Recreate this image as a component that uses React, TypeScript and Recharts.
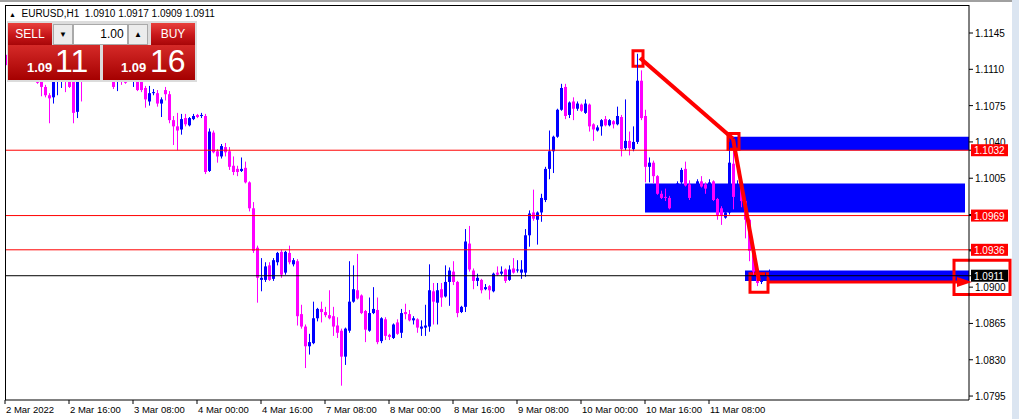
import React from 'react';
import {
  ComposedChart,
  Bar,
  XAxis,
  YAxis,
  ReferenceLine,
  ReferenceArea,
  ReferenceDot,
} from 'recharts';

// EURUSD H1, one bar per hour from 2 Mar 2022 00:00
const opens = [
  1.1124, 1.1114, 1.1122, 1.1131, 1.1127, 1.1134, 1.1139, 1.1125, 1.1110, 1.1104,
  1.1093, 1.1085, 1.1083, 1.1106, 1.1110, 1.1116, 1.1112, 1.1104, 1.1069, 1.1108,
  1.1104, 1.1114, 1.1121, 1.1118, 1.1126, 1.1123, 1.1116, 1.1110, 1.1102, 1.1110,
  1.1104, 1.1103, 1.1103, 1.1110, 1.1104, 1.1092, 1.1079, 1.1087, 1.1087, 1.1077,
  1.1090, 1.1086, 1.1061, 1.1055, 1.1052, 1.1063, 1.1056, 1.1062, 1.1066, 1.1065,
  1.1065, 1.1012, 1.1049, 1.1031, 1.1026, 1.1035, 1.1031, 1.1017, 1.1014, 1.1012,
  1.1015, 1.1001, 1.0976, 1.0938, 1.0907, 1.0907, 1.0921, 1.0908, 1.0924, 1.0934,
  1.0914, 1.0933, 1.0922, 1.0925, 1.0874, 1.0862, 1.0843, 1.0846, 1.0870, 1.0879,
  1.0876, 1.0873, 1.0872, 1.0863, 1.0858, 1.0833, 1.0858, 1.0886, 1.0897, 1.0892,
  1.0877, 1.0858, 1.0875, 1.0878, 1.0848, 1.0869, 1.0854, 1.0851, 1.0866, 1.0856,
  1.0876, 1.0874, 1.0868, 1.0869, 1.0860, 1.0861, 1.0862, 1.0896, 1.0885, 1.0898,
  1.0891, 1.0905, 1.0915, 1.0905, 1.0876, 1.0881, 1.0942, 1.0916, 1.0906, 1.0907,
  1.0898, 1.0901, 1.0896, 1.0914, 1.0913, 1.0917, 1.0907, 1.0918, 1.0916, 1.0914,
  1.0914, 1.0950, 1.0972, 1.0965, 1.0972, 1.0984, 1.1014, 1.1031, 1.1045, 1.1071,
  1.1093, 1.1066, 1.1079, 1.1072, 1.1076, 1.1068, 1.1076, 1.1057, 1.1051, 1.1055,
  1.1062, 1.1056, 1.1060, 1.1057, 1.1064, 1.1034, 1.1041, 1.1033, 1.1040, 1.1099,
  1.1065, 1.1016, 1.1020, 1.1007, 1.0990, 1.0987, 1.0986, 1.0976, 1.0986, 1.1001,
  1.1014, 1.0999, 1.0986, 1.0998, 1.1002, 1.0999, 1.0997, 1.1002, 1.0985, 1.0976,
  1.0967, 1.0972, 1.1019, 1.0987, 1.1000, 1.0983, 1.0965, 1.0935, 1.0915, 1.0905,
  1.0909, 1.0910,
];
const highs = [
  1.1127, 1.1128, 1.1135, 1.1140, 1.1138, 1.1145, 1.1143, 1.1131, 1.1115, 1.1108,
  1.1095, 1.1087, 1.1110, 1.1118, 1.1120, 1.1121, 1.1114, 1.1108, 1.1113, 1.1114,
  1.1118, 1.1126, 1.1132, 1.1129, 1.1138, 1.1130, 1.1124, 1.1114, 1.1115, 1.1114,
  1.1110, 1.1112, 1.1116, 1.1114, 1.1108, 1.1094, 1.1094, 1.1091, 1.1090, 1.1083,
  1.1093, 1.1089, 1.1065, 1.1068, 1.1067, 1.1067, 1.1064, 1.1067, 1.1067, 1.1068,
  1.1067, 1.1053, 1.1051, 1.1033, 1.1038, 1.1039, 1.1035, 1.1026, 1.1017, 1.1025,
  1.1021, 1.1002, 1.0982, 1.0940, 1.0928, 1.0924, 1.0924, 1.0928, 1.0934, 1.0936,
  1.0935, 1.0940, 1.0928, 1.0927, 1.0883, 1.0864, 1.0855, 1.0886, 1.0880, 1.0886,
  1.0881, 1.0897, 1.0881, 1.0871, 1.0860, 1.0861, 1.0925, 1.0921, 1.0932, 1.0893,
  1.0878, 1.0890, 1.0900, 1.0890, 1.0871, 1.0871, 1.0855, 1.0865, 1.0869, 1.0879,
  1.0884, 1.0878, 1.0872, 1.0870, 1.0868, 1.0883, 1.0922, 1.0904, 1.0904, 1.0904,
  1.0921, 1.0919, 1.0925, 1.0906, 1.0882, 1.0956, 1.0959, 1.0918, 1.0913, 1.0908,
  1.0903, 1.0902, 1.0914, 1.0920, 1.0920, 1.0918, 1.0921, 1.0928, 1.0926, 1.0926,
  1.0956, 1.0974, 1.0994, 1.0973, 1.0990, 1.1016, 1.1051, 1.1046, 1.1072, 1.1096,
  1.1096, 1.1079, 1.1083, 1.1079, 1.1077, 1.1081, 1.1077, 1.1058, 1.1056, 1.1062,
  1.1065, 1.1062, 1.1061, 1.1074, 1.1066, 1.1081, 1.1050, 1.1055, 1.1125, 1.1109,
  1.1071, 1.1025, 1.1022, 1.1008, 1.0993, 1.0995, 1.0988, 1.0988, 1.1002, 1.1015,
  1.1021, 1.1003, 1.0999, 1.1004, 1.1007, 1.1001, 1.1004, 1.1003, 1.0986, 1.0978,
  1.0974, 1.1040, 1.1039, 1.1003, 1.1002, 1.0984, 1.0966, 1.0936, 1.0916, 1.0911,
  1.0914, 1.0917,
];
const lows = [
  1.1113, 1.1108, 1.1118, 1.1124, 1.1120, 1.1129, 1.1121, 1.1112, 1.1096, 1.1084,
  1.1083, 1.1058, 1.1077, 1.1085, 1.1092, 1.1088, 1.1092, 1.1058, 1.1063, 1.1079,
  1.1102, 1.1108, 1.1115, 1.1110, 1.1120, 1.1112, 1.1106, 1.1091, 1.1089, 1.1095,
  1.1096, 1.1102, 1.1093, 1.1089, 1.1088, 1.1073, 1.1075, 1.1085, 1.1074, 1.1064,
  1.1080, 1.1058, 1.1037, 1.1032, 1.1047, 1.1055, 1.1055, 1.1061, 1.1063, 1.1063,
  1.1009, 1.1011, 1.1029, 1.1020, 1.1024, 1.1026, 1.1013, 1.1008, 1.1007, 1.1011,
  1.1000, 1.0973, 1.0933, 1.0885, 1.0896, 1.0905, 1.0906, 1.0906, 1.0921, 1.0909,
  1.0912, 1.0922, 1.0920, 1.0863, 1.0860, 1.0822, 1.0835, 1.0845, 1.0867, 1.0866,
  1.0871, 1.0869, 1.0853, 1.0851, 1.0805, 1.0825, 1.0856, 1.0885, 1.0888, 1.0874,
  1.0847, 1.0857, 1.0874, 1.0845, 1.0846, 1.0849, 1.0849, 1.0850, 1.0854, 1.0851,
  1.0869, 1.0867, 1.0864, 1.0856, 1.0853, 1.0853, 1.0857, 1.0864, 1.0864, 1.0881,
  1.0890, 1.0882, 1.0902, 1.0871, 1.0875, 1.0876, 1.0915, 1.0898, 1.0901, 1.0894,
  1.0897, 1.0888, 1.0895, 1.0911, 1.0911, 1.0904, 1.0906, 1.0913, 1.0914, 1.0908,
  1.0910, 1.0939, 1.0964, 1.0941, 1.0963, 1.0982, 1.1004, 1.1010, 1.1044, 1.1070,
  1.1062, 1.1063, 1.1061, 1.1070, 1.1069, 1.1067, 1.1050, 1.1041, 1.1050, 1.1046,
  1.1055, 1.1055, 1.1053, 1.1056, 1.1026, 1.1032, 1.1027, 1.1031, 1.1038, 1.1061,
  1.1001, 1.1001, 1.1000, 1.0989, 1.0985, 1.0983, 1.0975, 1.0974, 1.0984, 1.0998,
  1.0997, 1.0984, 1.0984, 1.0995, 1.0996, 1.0990, 1.0994, 1.0983, 1.0965, 1.0960,
  1.0966, 1.0970, 1.0975, 1.0982, 1.0977, 1.0947, 1.0925, 1.0912, 1.0901, 1.0903,
  1.0906, 1.0909,
];
const closes = [
  1.1114, 1.1122, 1.1131, 1.1127, 1.1134, 1.1139, 1.1125, 1.1117, 1.1097, 1.1093,
  1.1085, 1.1082, 1.1106, 1.1112, 1.1116, 1.1108, 1.1093, 1.1068, 1.1108, 1.1102,
  1.1114, 1.1121, 1.1118, 1.1126, 1.1123, 1.1116, 1.1110, 1.1093, 1.1110, 1.1098,
  1.1097, 1.1108, 1.1110, 1.1090, 1.1090, 1.1081, 1.1087, 1.1088, 1.1077, 1.1081,
  1.1086, 1.1061, 1.1055, 1.1051, 1.1062, 1.1057, 1.1063, 1.1065, 1.1064, 1.1066,
  1.1011, 1.1050, 1.1030, 1.1026, 1.1036, 1.1030, 1.1016, 1.1011, 1.1011, 1.1014,
  1.1001, 1.0976, 1.0935, 1.0909, 1.0909, 1.0920, 1.0907, 1.0926, 1.0933, 1.0912,
  1.0934, 1.0924, 1.0926, 1.0872, 1.0862, 1.0843, 1.0847, 1.0870, 1.0879, 1.0876,
  1.0873, 1.0870, 1.0862, 1.0856, 1.0833, 1.0860, 1.0886, 1.0898, 1.0889, 1.0875,
  1.0859, 1.0875, 1.0879, 1.0847, 1.0870, 1.0853, 1.0852, 1.0864, 1.0855, 1.0875,
  1.0874, 1.0868, 1.0870, 1.0861, 1.0862, 1.0863, 1.0897, 1.0886, 1.0897, 1.0890,
  1.0905, 1.0916, 1.0905, 1.0875, 1.0881, 1.0944, 1.0917, 1.0906, 1.0909, 1.0897,
  1.0900, 1.0897, 1.0913, 1.0912, 1.0915, 1.0906, 1.0917, 1.0914, 1.0917, 1.0917,
  1.0950, 1.0971, 1.0966, 1.0972, 1.0986, 1.1014, 1.1031, 1.1045, 1.1071, 1.1092,
  1.1065, 1.1078, 1.1072, 1.1077, 1.1070, 1.1077, 1.1055, 1.1052, 1.1054, 1.1061,
  1.1056, 1.1061, 1.1057, 1.1065, 1.1033, 1.1041, 1.1034, 1.1040, 1.1099, 1.1063,
  1.1016, 1.1020, 1.1007, 1.0990, 1.0986, 1.0986, 1.0976, 1.0985, 1.1000, 1.1013,
  1.0998, 1.0986, 1.0996, 1.1002, 1.0997, 1.0995, 1.1001, 1.0984, 1.0969, 1.0969,
  1.0972, 1.1020, 1.0987, 1.0999, 1.0983, 1.0965, 1.0935, 1.0915, 1.0904, 1.0909,
  1.0910, 1.0911,
];

const timeTicks = [0, 16, 32, 48, 64, 80, 96, 112, 128, 144, 160, 176];
const timeLabels = [
  '2 Mar 2022', '2 Mar 16:00', '3 Mar 08:00', '4 Mar 00:00', '4 Mar 16:00', '7 Mar 08:00',
  '8 Mar 00:00', '8 Mar 16:00', '9 Mar 08:00', '10 Mar 00:00', '10 Mar 16:00', '11 Mar 08:00',
];
const priceTicks = [1.0795, 1.083, 1.0865, 1.09, 1.0935, 1.097, 1.1005, 1.104, 1.1075, 1.111, 1.1145];

const redLevels = [1.1032, 1.0969, 1.0936];
const bidPrice = 1.0911;

// blue zones: [fromBar, toBar, lowPrice, highPrice]
const zones = [
  [180.5, 241, 1.1032, 1.1045],
  [160, 240, 1.0972, 1.1],
  [185, 241, 1.0906, 1.0916],
];
// red marker squares
const marks = [
  [157, 159.5, 1.1113, 1.1128],
  [180.75, 183.5, 1.1033, 1.1048],
  [186.25, 190.75, 1.0895, 1.0913],
  [237.25, 251.25, 1.0893, 1.0926],
];
// trend path points [bar, price]
const pathPts = [
  [158.75, 1.1121],
  [182, 1.1043],
  [188.5, 1.0906],
];
const arrowFrom = [190.75, 1.0905];
const arrowTo = [238, 1.0905];

const data = opens.map((o, i) => ({
  i,
  open: o,
  high: highs[i],
  low: lows[i],
  close: closes[i],
  range: [lows[i], highs[i]],
}));

// level tags go last so they paint over the plain price labels
const axisTicks = [...priceTicks, ...redLevels, bidPrice];

const FONT = '"Liberation Sans", Arial, sans-serif';

function Candle(props: any) {
  const { x, y, width, height, payload } = props;
  if (!payload) return null;
  const { open, close, high, low } = payload;
  const cx = Math.round(x + width / 2) + 0.5;
  const k = high > low ? height / (high - low) : 0;
  const py = (p: number) => y + (high - p) * k;
  const color = close >= open ? '#0000ff' : '#ff00ff';
  const top = py(Math.max(open, close));
  const bot = py(Math.min(open, close));
  return (
    <g>
      <line x1={cx} x2={cx} y1={y} y2={y + height} stroke={color} strokeWidth={1} />
      <rect x={cx - 1.5} y={top} width={3} height={Math.max(1, bot - top)} fill={color} />
    </g>
  );
}

function TimeTick(props: any) {
  const { x, y, payload } = props;
  const idx = timeTicks.indexOf(payload.value);
  return (
    <text x={x + 1} y={y + 7} fontSize={9.5} fontFamily={FONT} fill="#000" textAnchor="start">
      {timeLabels[idx]}
    </text>
  );
}

function PriceTick(props: any) {
  const { x, y, payload } = props;
  const v = payload.value;
  const label = Number(v).toFixed(4);
  const isRed = redLevels.includes(v);
  const isBid = v === bidPrice;
  if (isRed || isBid) {
    return (
      <g>
        <rect x={x - 4} y={y - 6} width={37} height={12} fill={isBid ? '#000' : '#ff0000'} />
        <text x={x - 1} y={y + 4} fontSize={10} fontFamily={FONT} fill="#fff">
          {label}
        </text>
      </g>
    );
  }
  return (
    <text x={x} y={y + 4} fontSize={10} fontFamily={FONT} fill="#000">
      {label}
    </text>
  );
}

function ArrowHead(props: any) {
  const { cx, cy } = props;
  return <polygon points={`${cx},${cy - 5} ${cx + 15},${cy} ${cx},${cy + 5}`} fill="#ff0000" />;
}

const redBtn = 'linear-gradient(to bottom, #e8403c 0%, #c8171a 55%, #a80608 100%)';

function TradePanel() {
  const txt: React.CSSProperties = { position: 'absolute', color: '#fff', fontFamily: FONT };
  const small: React.CSSProperties = {
    position: 'absolute', top: 24, width: 18, height: 19, background: '#ececec',
    border: '1px solid #a9a9a9', fontSize: 8, textAlign: 'center', lineHeight: '19px',
    fontFamily: FONT, color: '#000',
  };
  return (
    <div style={{ position: 'absolute', left: 0, top: 0, width: 200, height: 84 }}>
      <div style={{ position: 'absolute', left: 7, top: 21, width: 190, height: 61, background: '#dcdcdc' }} />
      <div style={{ position: 'absolute', left: 8, top: 23, width: 44, height: 22, background: redBtn }} />
      <div style={{ position: 'absolute', left: 151, top: 23, width: 44, height: 22, background: redBtn }} />
      <div style={{ position: 'absolute', left: 8, top: 45, width: 92, height: 35, background: 'linear-gradient(to bottom, #d52a28, #a50000)' }} />
      <div style={{ position: 'absolute', left: 103, top: 45, width: 92, height: 35, background: 'linear-gradient(to bottom, #d52a28, #a50000)' }} />
      <div style={{ ...small, left: 53 }}>▼</div>
      <div style={{ ...small, left: 128 }}>▲</div>
      <div style={{
        position: 'absolute', left: 73, top: 24, width: 53, height: 19, background: '#fff',
        border: '1px solid #a9a9a9', fontSize: 12, lineHeight: '19px', textAlign: 'right',
        paddingRight: 0, fontFamily: FONT, color: '#000',
      }}>1.00&nbsp;</div>
      <div style={{ ...txt, left: 8, top: 27, width: 44, textAlign: 'center', fontSize: 12 }}>SELL</div>
      <div style={{ ...txt, left: 151, top: 27, width: 44, textAlign: 'center', fontSize: 12 }}>BUY</div>
      <div style={{ ...txt, left: 27, top: 60, fontSize: 13, fontWeight: 'bold' }}>1.09</div>
      <div style={{ ...txt, left: 55, top: 43, fontSize: 32 }}>11</div>
      <div style={{ ...txt, left: 121, top: 60, fontSize: 13, fontWeight: 'bold' }}>1.09</div>
      <div style={{ ...txt, left: 150, top: 43, fontSize: 32 }}>16</div>
    </div>
  );
}

export default function App() {
  return (
    <div style={{ position: 'absolute', left: 0, top: 0, width: 1019, height: 419, background: '#fff', overflow: 'hidden' }}>
      <ComposedChart
        width={1019}
        height={419}
        data={data}
        margin={{ top: 5, right: 7, bottom: 0, left: 5 }}
      >
        <XAxis
          type="number"
          dataKey="i"
          domain={[0, 241]}
          allowDataOverflow
          ticks={timeTicks}
          interval={0}
          height={19}
          tickSize={4}
          tickMargin={2}
          tick={<TimeTick />}
          axisLine={{ stroke: '#000' }}
          tickLine={{ stroke: '#000' }}
        />
        <YAxis
          orientation="right"
          type="number"
          domain={[1.07912, 1.1172]}
          allowDataOverflow
          ticks={axisTicks}
          interval={0}
          width={43}
          tickSize={4}
          tickMargin={2}
          tick={<PriceTick />}
          axisLine={{ stroke: '#000' }}
          tickLine={{ stroke: '#000' }}
        />
        {zones.map((z, n) => (
          <ReferenceArea
            key={`z${n}`}
            x1={z[0]}
            x2={z[1]}
            y1={z[2]}
            y2={z[3]}
            fill="#0000ff"
            fillOpacity={1}
            stroke="none"
            ifOverflow="visible"
          />
        ))}
        <Bar dataKey="range" barSize={3} shape={<Candle />} isAnimationActive={false} />
        {redLevels.map((v) => (
          <ReferenceLine key={v} y={v} stroke="#ff0000" strokeWidth={1} />
        ))}
        <ReferenceLine y={bidPrice} stroke="#000" strokeWidth={1} />
        <ReferenceLine
          segment={[{ x: pathPts[0][0], y: pathPts[0][1] }, { x: pathPts[1][0], y: pathPts[1][1] }]}
          stroke="#ff0000"
          strokeWidth={4}
        />
        <ReferenceLine
          segment={[{ x: pathPts[1][0], y: pathPts[1][1] }, { x: pathPts[2][0], y: pathPts[2][1] }]}
          stroke="#ff0000"
          strokeWidth={4}
        />
        <ReferenceLine
          segment={[{ x: arrowFrom[0], y: arrowFrom[1] }, { x: arrowTo[0], y: arrowTo[1] }]}
          stroke="#ff0000"
          strokeWidth={3}
        />
        <ReferenceDot x={arrowTo[0]} y={arrowTo[1]} r={5} shape={<ArrowHead />} />
        {marks.map((m, n) => (
          <ReferenceArea
            key={`m${n}`}
            x1={m[0]}
            x2={m[1]}
            y1={m[2]}
            y2={m[3]}
            fill="none"
            stroke="#ff0000"
            strokeWidth={3}
            ifOverflow="visible"
          />
        ))}
      </ComposedChart>
      {/* frame */}
      <div style={{ position: 'absolute', left: 0, top: 0, width: 1019, height: 2, background: '#a0a0a0' }} />
      <div style={{ position: 'absolute', left: 5, top: 5, width: 964, height: 395, borderLeft: '1px solid #000', borderTop: '1px solid #000', boxSizing: 'border-box', pointerEvents: 'none' }} />
      <div style={{ position: 'absolute', left: 1012, top: 0, width: 7, height: 419, background: '#dbe5f1' }} />
      {/* header */}
      <div style={{ position: 'absolute', left: 9, top: 8, fontSize: 10, fontFamily: FONT, color: '#000', whiteSpace: 'pre' }}>
        <span style={{ fontSize: 7 }}>▲</span>{'  EURUSD,H1  1.0910 1.0917 1.0909 1.0911'}
      </div>
      <TradePanel />
    </div>
  );
}
